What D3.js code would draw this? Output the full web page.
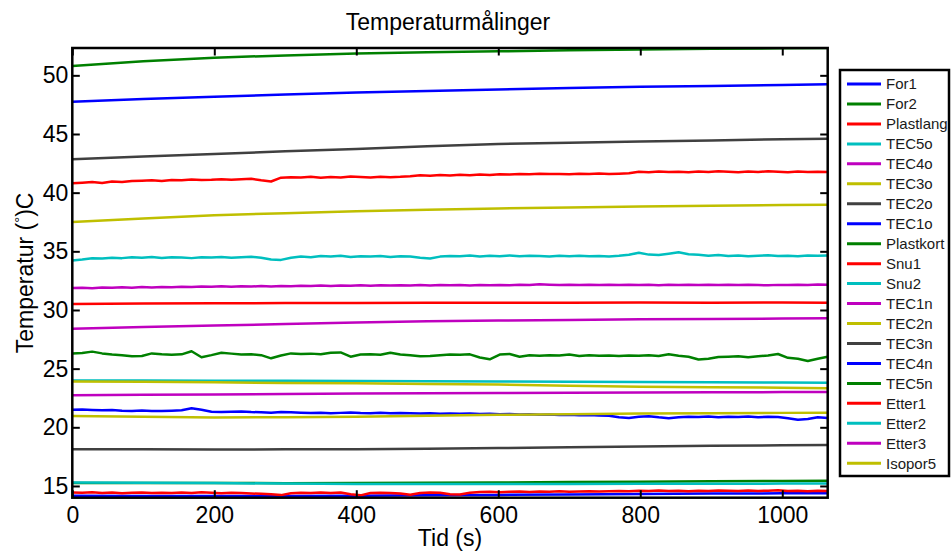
<!DOCTYPE html>
<html>
<head>
<meta charset="utf-8">
<script src="https://cdn.jsdelivr.net/npm/d3@7"></script>
<style>
    body { margin: 0; background: #fff; }
    text { font-family: "Liberation Sans", Arial, sans-serif; }
</style>
</head>
<body>
<div id="chart"></div>
<script>

// tidspunkter (s): tett for de støyete målingene, glatt for de jevne
var tidTett = [
    0, 14, 28, 42, 56, 70, 84, 98, 112, 126, 140,
    154, 168, 182, 196, 210, 224, 238, 252, 266, 280, 294,
    308, 322, 336, 350, 364, 378, 392, 406, 420, 434, 448,
    462, 476, 490, 504, 518, 532, 546, 560, 574, 588, 602,
    616, 630, 644, 658, 672, 686, 700, 714, 728, 742, 756,
    770, 784, 798, 812, 826, 840, 854, 868, 882, 896, 910,
    924, 938, 952, 966, 980, 994, 1008, 1022, 1036, 1050, 1064
];
var tidGlatt = [0, 100, 200, 300, 400, 500, 600, 700, 800, 900, 1000, 1064];

var xGrenser = [0, 1064];
var yGrenser = [14, 52.33];
var xTicks = [0, 200, 400, 600, 800, 1000];
var yTicks = [15, 20, 25, 30, 35, 40, 45, 50];

var serieNavn = ['For1', 'For2', 'Plastlang', 'TEC5o', 'TEC4o', 'TEC3o', 'TEC2o', 'TEC1o',
    'Plastkort', 'Snu1', 'Snu2', 'TEC1n', 'TEC2n', 'TEC3n', 'TEC4n', 'TEC5n',
    'Etter1', 'Etter2', 'Etter3', 'Isopor5'];

var for1 = [47.75, 47.98, 48.18, 48.37, 48.53, 48.67, 48.8, 48.92, 49.02, 49.1, 49.18, 49.23];
var for2 = [50.8, 51.2, 51.5, 51.7, 51.87, 51.97, 52.05, 52.13, 52.2, 52.26, 52.31, 52.33];
var plastlang = [
    40.8, 40.85, 40.9, 40.82, 40.95, 40.9, 41.0, 41.02, 41.05, 41.0, 41.08,
    41.05, 41.12, 41.08, 41.1, 41.15, 41.1, 41.14, 41.18, 41.05, 40.95, 41.28,
    41.32, 41.3, 41.35, 41.28, 41.33, 41.3, 41.38, 41.34, 41.3, 41.36, 41.32,
    41.35, 41.4, 41.48, 41.45, 41.5, 41.47, 41.52, 41.48, 41.55, 41.5, 41.56,
    41.55, 41.6, 41.57, 41.62, 41.58, 41.6, 41.56, 41.62, 41.6, 41.63, 41.6,
    41.62, 41.65, 41.78, 41.75, 41.8, 41.76, 41.78, 41.74, 41.8, 41.77, 41.82,
    41.78, 41.75, 41.8, 41.76, 41.82, 41.78, 41.75, 41.8, 41.76, 41.78, 41.77
];
var tec5o = [
    34.22, 34.3, 34.4, 34.38, 34.45, 34.42, 34.5, 34.46, 34.52, 34.44, 34.5,
    34.48, 34.42, 34.5, 34.47, 34.52, 34.45, 34.5, 34.54, 34.46, 34.3, 34.27,
    34.45, 34.55, 34.5, 34.6, 34.55, 34.62, 34.52, 34.58, 34.55, 34.6, 34.52,
    34.58, 34.55, 34.45, 34.38, 34.55, 34.6, 34.58, 34.64, 34.55, 34.62, 34.57,
    34.65, 34.58, 34.62, 34.6, 34.55, 34.62, 34.58, 34.63, 34.57, 34.6, 34.56,
    34.62, 34.7, 34.88, 34.72, 34.68, 34.8, 34.92, 34.75, 34.7, 34.62, 34.68,
    34.6, 34.65, 34.58, 34.62, 34.66, 34.6, 34.62, 34.58, 34.65, 34.62, 34.64
];
var tec4o = [
    31.88, 31.9, 31.86, 31.92, 31.89, 31.93, 31.9, 31.95, 31.92, 31.96, 31.94,
    31.97, 31.95, 32.0, 31.97, 32.02, 31.98, 32.03, 32.0, 32.04, 32.01, 32.05,
    32.03, 32.06, 32.04, 32.08, 32.05, 32.09, 32.06, 32.1, 32.07, 32.1, 32.08,
    32.11, 32.08, 32.12, 32.09, 32.13, 32.1, 32.12, 32.09, 32.13, 32.11, 32.14,
    32.11, 32.15, 32.12, 32.2, 32.16, 32.13, 32.15, 32.12, 32.16, 32.13, 32.15,
    32.12, 32.16, 32.13, 32.15, 32.11, 32.15, 32.13, 32.16, 32.12, 32.15, 32.13,
    32.16, 32.12, 32.15, 32.13, 32.1, 32.14, 32.12, 32.16, 32.14, 32.17, 32.15
];
var tec3o = [37.5, 37.8, 38.07, 38.25, 38.41, 38.55, 38.65, 38.74, 38.82, 38.88, 38.94, 38.97];
var tec2o = [42.84, 43.08, 43.29, 43.52, 43.72, 43.95, 44.15, 44.26, 44.35, 44.45, 44.55, 44.6];
var tec1o = [
    21.5, 21.52, 21.48, 21.45, 21.47, 21.42, 21.4, 21.43, 21.38, 21.4, 21.42,
    21.45, 21.62, 21.5, 21.33, 21.3, 21.32, 21.35, 21.3, 21.28, 21.25, 21.3,
    21.28, 21.25, 21.22, 21.25, 21.2, 21.23, 21.27, 21.22, 21.2, 21.24, 21.2,
    21.22, 21.2, 21.18, 21.2, 21.16, 21.18, 21.15, 21.17, 21.14, 21.16, 21.12,
    21.14, 21.1, 21.12, 21.08, 21.1, 21.05, 21.08, 21.02, 21.05, 21.0, 20.98,
    20.85, 20.8, 20.9, 20.95, 20.85, 20.78, 20.85, 20.9, 20.88, 20.92, 20.85,
    20.9, 20.88, 20.92, 20.85, 20.9, 20.87, 20.78, 20.65, 20.7, 20.85, 20.8
];
var plastkort = [
    26.3, 26.33, 26.45, 26.3, 26.2, 26.15, 26.05, 26.08, 26.3, 26.22, 26.18,
    26.22, 26.48, 25.97, 26.15, 26.35, 26.28, 26.2, 26.22, 26.15, 25.88, 26.12,
    26.3, 26.25, 26.28, 26.22, 26.35, 26.38, 26.02, 26.2, 26.22, 26.18, 26.36,
    26.2, 26.15, 26.05, 26.07, 26.15, 26.2, 26.18, 26.22, 25.95, 25.8, 26.2,
    26.25, 26.02, 26.15, 26.1, 26.15, 26.12, 26.2, 26.08, 26.15, 26.1, 26.12,
    26.08, 26.12, 26.1, 26.15, 26.08, 26.22, 26.1, 26.02, 25.78, 25.85, 26.0,
    26.02, 26.05, 25.98, 26.05, 26.12, 26.25, 25.92, 25.85, 25.65, 25.85, 26.02
];
var snu1 = [30.52, 30.55, 30.57, 30.59, 30.6, 30.61, 30.62, 30.62, 30.63, 30.62, 30.63, 30.62];
var snu2 = [23.98, 23.98, 23.97, 23.96, 23.95, 23.93, 23.91, 23.88, 23.86, 23.83, 23.81, 23.8];
var tec1n = [28.41, 28.55, 28.68, 28.8, 28.93, 29.03, 29.1, 29.15, 29.2, 29.24, 29.27, 29.29];
var tec2n = [23.9, 23.88, 23.83, 23.78, 23.76, 23.7, 23.64, 23.55, 23.45, 23.42, 23.38, 23.33];
var tec3n = [18.13, 18.12, 18.11, 18.12, 18.14, 18.18, 18.23, 18.3, 18.37, 18.42, 18.47, 18.49];
var tec4n = [14.17, 14.15, 14.14, 14.14, 14.16, 14.2, 14.24, 14.28, 14.32, 14.35, 14.37, 14.38];
var tec5n = [15.25, 15.25, 15.25, 15.24, 15.25, 15.27, 15.3, 15.33, 15.36, 15.4, 15.43, 15.45];
var etter1 = [
    14.45, 14.42, 14.47, 14.4, 14.44, 14.38, 14.42, 14.45, 14.4, 14.43, 14.41,
    14.44, 14.4, 14.46, 14.42, 14.38, 14.43, 14.4, 14.36, 14.33, 14.3, 14.22,
    14.38, 14.42, 14.4, 14.44, 14.4, 14.45, 14.3, 14.2, 14.4, 14.43, 14.4,
    14.35, 14.25, 14.4, 14.45, 14.42, 14.3, 14.28, 14.42, 14.48, 14.5, 14.46,
    14.5, 14.52, 14.48, 14.53, 14.5, 14.55, 14.5, 14.53, 14.56, 14.52, 14.55,
    14.58, 14.55, 14.6, 14.57, 14.62, 14.58, 14.6, 14.55, 14.6, 14.58, 14.62,
    14.6, 14.57, 14.62, 14.58, 14.6, 14.63, 14.58, 14.6, 14.56, 14.6, 14.58
];
var etter2 = [15.3, 15.28, 15.25, 15.2, 15.17, 15.17, 15.16, 15.17, 15.18, 15.19, 15.2, 15.2];
var etter3 = [22.73, 22.77, 22.8, 22.84, 22.88, 22.91, 22.93, 22.95, 22.97, 22.98, 23.0, 23.01];
var isopor5 = [20.97, 20.9, 20.84, 20.86, 20.9, 20.98, 21.06, 21.12, 21.17, 21.2, 21.23, 21.25];

var serieVerdier = [for1, for2, plastlang, tec5o, tec4o, tec3o, tec2o, tec1o,
    plastkort, snu1, snu2, tec1n, tec2n, tec3n, tec4n, tec5n,
    etter1, etter2, etter3, isopor5];

// matlab sin standard fargerekkefølge
var farger = ['#0000ff', '#008000', '#ff0000', '#00bfbf', '#bf00bf', '#bfbf00', '#404040'];

var serier = serieNavn.map(function (navn, i) {
    var verdier = serieVerdier[i];
    var tid = verdier.length === tidTett.length ? tidTett : tidGlatt;
    return {
        navn: navn,
        farge: farger[i % farger.length],
        punkter: verdier.map(function (v, j) { return [tid[j], v]; })
    };
});

var W = 952, H = 553;
var venstre = 72.3, topp = 48, hoyre = 827.7, bunn = 497.7;

var svg = d3.select('#chart')
    .append('svg')
    .attr('width', W)
    .attr('height', H);

var x = d3.scaleLinear().domain(xGrenser).range([venstre, hoyre]);
var y = d3.scaleLinear().domain(yGrenser).range([bunn, topp]);

svg.append('clipPath')
    .attr('id', 'plotklipp')
    .append('rect')
    .attr('x', venstre)
    .attr('y', topp)
    .attr('width', hoyre - venstre)
    .attr('height', bunn - topp);

var linje = d3.line()
    .x(function (d) { return x(d[0]); })
    .y(function (d) { return y(d[1]); });

svg.append('g')
    .attr('clip-path', 'url(#plotklipp)')
    .selectAll('path')
    .data(serier)
    .enter().append('path')
    .attr('d', function (d) { return linje(d.punkter); })
    .attr('fill', 'none')
    .attr('stroke', function (d) { return d.farge; })
    .attr('stroke-width', 2.5)
    .attr('stroke-linejoin', 'round');

// akser, med ticks pekende innover som i matlab
function stilAkse(g) {
    g.select('.domain').remove();
    g.selectAll('.tick line').attr('stroke', '#000').attr('stroke-width', 2);
    g.selectAll('.tick text')
        .attr('fill', '#000')
        .style('font-family', '"Liberation Sans", Arial, sans-serif')
        .style('font-size', '23px');
}

svg.append('g')
    .attr('transform', 'translate(0,' + bunn + ')')
    .call(d3.axisBottom(x).tickValues(xTicks).tickSize(-7.5).tickPadding(8.5).tickFormat(d3.format('d')))
    .call(stilAkse);

svg.append('g')
    .attr('transform', 'translate(0,' + topp + ')')
    .call(d3.axisTop(x).tickValues(xTicks).tickSize(-7.5).tickFormat(''))
    .call(stilAkse);

svg.append('g')
    .attr('transform', 'translate(' + venstre + ',0)')
    .call(d3.axisLeft(y).tickValues(yTicks).tickSize(-7.5).tickPadding(4).tickFormat(d3.format('d')))
    .call(stilAkse);

svg.append('g')
    .attr('transform', 'translate(' + hoyre + ',0)')
    .call(d3.axisRight(y).tickValues(yTicks).tickSize(-7.5).tickFormat(''))
    .call(stilAkse);

svg.append('rect')
    .attr('x', venstre)
    .attr('y', topp)
    .attr('width', hoyre - venstre)
    .attr('height', bunn - topp)
    .attr('fill', 'none')
    .attr('stroke', '#000')
    .attr('stroke-width', 2.5);

// tittel og aksetitler
svg.append('text')
    .attr('x', 448)
    .attr('y', 30)
    .attr('text-anchor', 'middle')
    .style('font-size', '23px')
    .text('Temperaturmålinger');

svg.append('text')
    .attr('x', (venstre + hoyre) / 2)
    .attr('y', 546)
    .attr('text-anchor', 'middle')
    .style('font-size', '23px')
    .text('Tid (s)');

var ylab = svg.append('text')
    .attr('transform', 'translate(32.5,' + ((topp + bunn) / 2) + ') rotate(-90)')
    .attr('text-anchor', 'middle')
    .style('font-size', '23px');
ylab.append('tspan').text('Temperatur (');
ylab.append('tspan').attr('dy', -8).style('font-size', '15px').text('°');
ylab.append('tspan').attr('dy', 8).text(')C');

// tegnforklaring
var lx = 840, ly = 70, lw = 109, lh = 406;
var legend = svg.append('g');

legend.append('rect')
    .attr('x', lx)
    .attr('y', ly)
    .attr('width', lw)
    .attr('height', lh)
    .attr('fill', '#fff')
    .attr('stroke', '#000')
    .attr('stroke-width', 2.5);

var rader = legend.selectAll('g.rad')
    .data(serier)
    .enter().append('g')
    .attr('class', 'rad')
    .attr('transform', function (d, i) { return 'translate(0,' + (84 + i * 19.96) + ')'; });

rader.append('line')
    .attr('x1', 847)
    .attr('x2', 881)
    .attr('stroke', function (d) { return d.farge; })
    .attr('stroke-width', 3);

rader.append('text')
    .attr('x', 886)
    .attr('dy', '0.36em')
    .attr('fill', '#1a1a1a')
    .style('font-size', '15px')
    .text(function (d) { return d.navn; });

</script>
</body>
</html>
